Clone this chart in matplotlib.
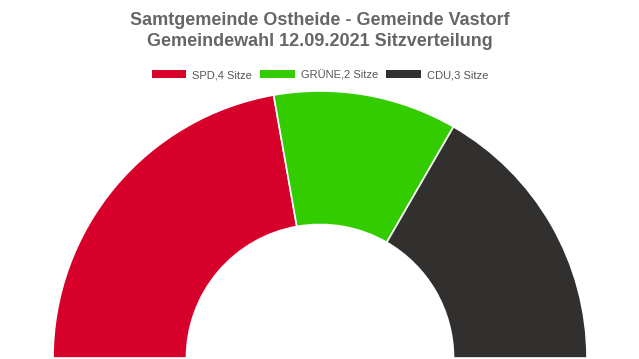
import matplotlib.pyplot as plt
from matplotlib.patches import Wedge, Patch

# data
parties = ["SPD", "GRÜNE", "CDU"]
seats = [4, 2, 3]
colors = ["#d7002a", "#33cc00", "#31302e"]
title = "Samtgemeinde Ostheide - Gemeinde Vastorf\nGemeindewahl 12.09.2021 Sitzverteilung"

W, H = 639, 359
cx, cy = 320, 358      # centre in pixels (from top-left)
r_px = 267

fig = plt.figure(figsize=(W / 100, H / 100), dpi=100)
ax = fig.add_axes([0, 0, 1, 1])
ax.set_xlim(-cx / r_px, (W - cx) / r_px)
ax.set_ylim(-(H - cy) / r_px, cy / r_px)
ax.axis("off")

total = sum(seats)
start = 180.0
for name, n, c in zip(parties, seats, colors):
    span = 180.0 * n / total
    ax.add_patch(Wedge((0, 0), 1.0, start - span, start, width=0.5,
                       facecolor=c, edgecolor="white", linewidth=1.2))
    start -= span

fig.text(cx / W, 1 - 31 / H, title, ha="center", va="center",
         fontsize=13, fontweight="bold", color="#666666",
         family="Liberation Sans", linespacing=1.25)

handles = [Patch(facecolor=c, edgecolor="none") for c in colors]
labels = [f"{p},{n} Sitze" for p, n in zip(parties, seats)]
fig.legend(handles, labels, loc="center", bbox_to_anchor=(cx / W, 1 - 75 / H),
           ncol=3, frameon=False, prop={"family": "Liberation Sans", "size": 8},
           labelcolor="#555555", handlelength=3.1, handleheight=0.75,
           handletextpad=0.55, columnspacing=0.75, borderpad=0)

fig.savefig("out.png", dpi=100)
